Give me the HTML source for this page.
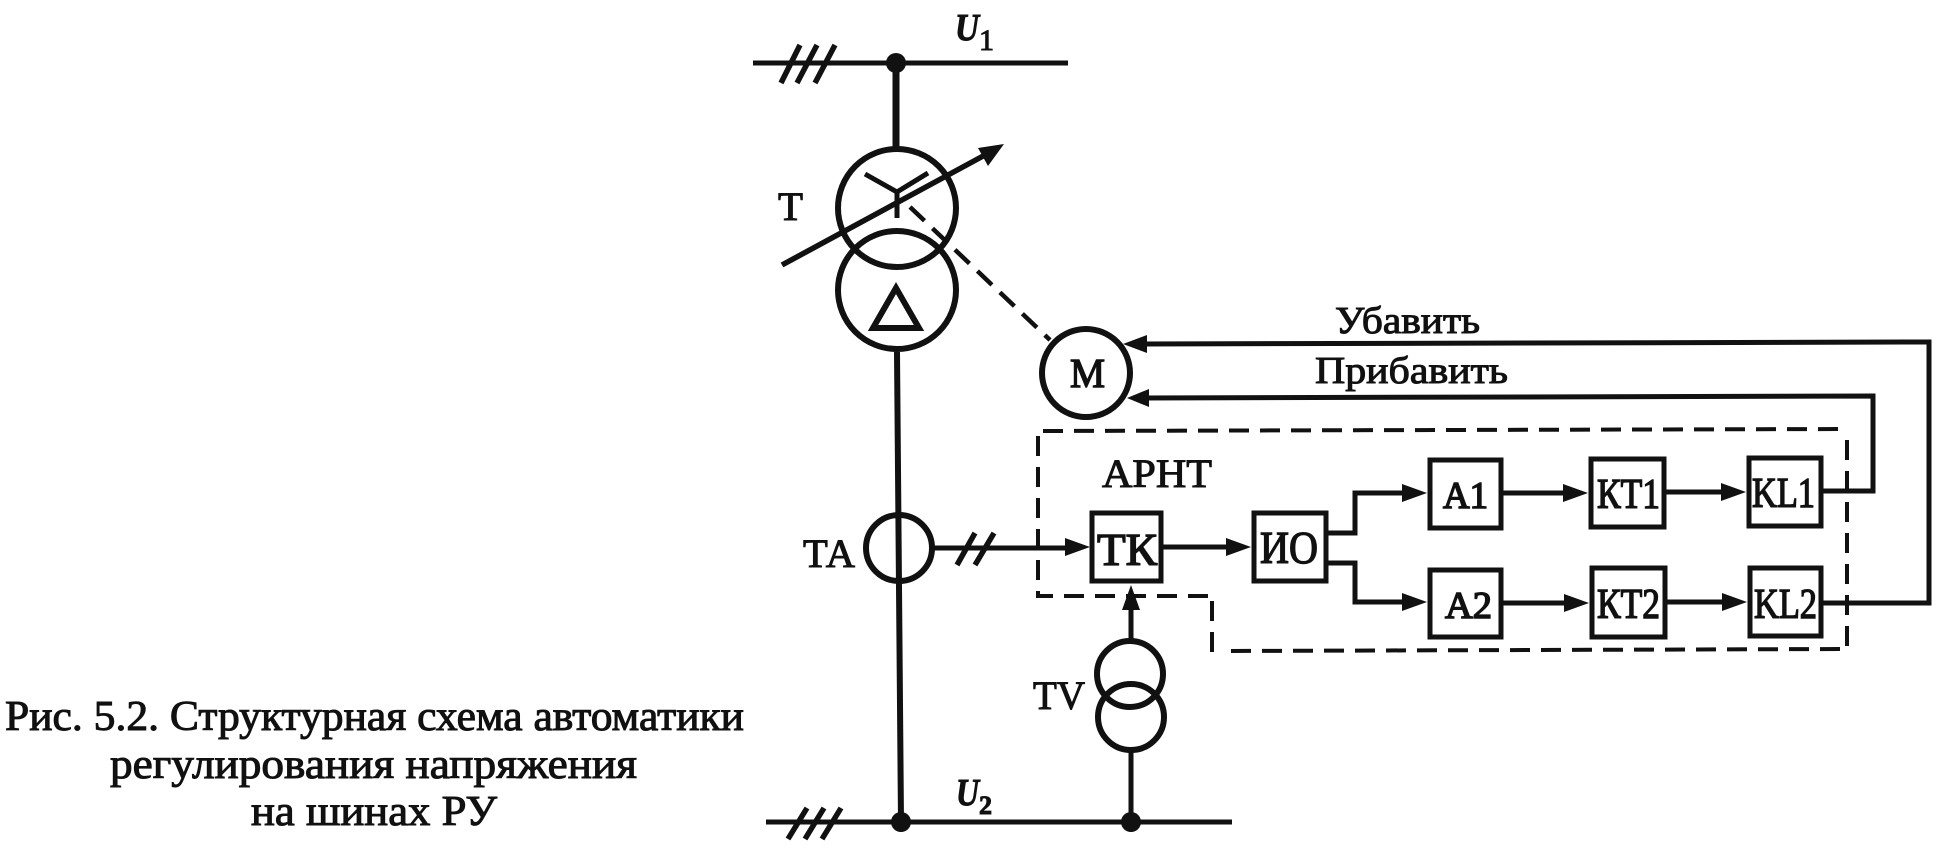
<!DOCTYPE html>
<html><head><meta charset="utf-8"><style>
html,body{margin:0;padding:0;background:#fff;width:1951px;height:855px;overflow:hidden}
svg{display:block}
text{font-family:"Liberation Serif","Noto Serif CJK SC",serif;fill:#111;stroke:#111;stroke-width:1}
</style></head><body>
<svg width="1951" height="855" viewBox="0 0 1951 855" xmlns="http://www.w3.org/2000/svg">
<rect width="1951" height="855" fill="#fff"/>
<g fill="none" stroke="#111" stroke-width="5">
<!-- buses -->
<path d="M753 63H1068"/>
<path d="M766 822H1232"/>
<path d="M781 83L800 45M797 83L817 45M815 83L835 45" stroke-width="5.5"/>
<path d="M788 839L807 808M805 839L824 808M822 839L841 808" stroke-width="5.5"/>
<path d="M896 63V147" stroke-width="7"/>
<path d="M897 352L901 822" stroke-width="6"/>
<!-- transformer -->
<circle cx="897" cy="208" r="59" stroke-width="6"/>
<circle cx="897" cy="290" r="59" stroke-width="6"/>
<path d="M782 265L985 155" stroke-width="5.5"/>
<path d="M865 174L897 192L928 173M897 192V218" stroke-width="5"/>
<path d="M873 328L896 288L919 328Z" stroke-width="6" stroke-linejoin="miter"/>
<path d="M910 207L1050 340" stroke-width="4.5" stroke-dasharray="20 11"/>
<!-- TA -->
<circle cx="899" cy="548" r="33" stroke-width="6"/>
<path d="M934 548H1070"/>
<path d="M957 565L975 533M975 565L994 533" stroke-width="5.5"/>
<!-- M -->
<circle cx="1086" cy="373" r="44" stroke-width="6"/>
<!-- TV -->
<circle cx="1130" cy="674" r="33" stroke-width="6"/>
<circle cx="1131" cy="717" r="33" stroke-width="6"/>
<path d="M1131 606V640"/>
<path d="M1131 750V822"/>
<!-- boxes -->
<rect x="1092" y="513" width="69" height="68"/>
<rect x="1254" y="513" width="72" height="68"/>
<rect x="1430" y="460" width="71" height="68"/>
<rect x="1430" y="570" width="71" height="67"/>
<rect x="1591" y="459" width="73" height="68"/>
<rect x="1592" y="568" width="73" height="69"/>
<rect x="1749" y="458" width="72" height="68"/>
<rect x="1750" y="568" width="71" height="68"/>
<!-- connectors -->
<path d="M1163 547H1232"/>
<path d="M1328 533H1355V493H1408"/>
<path d="M1328 563H1355V602H1408"/>
<path d="M1503 493H1570"/>
<path d="M1666 492H1728"/>
<path d="M1503 603H1570"/>
<path d="M1667 602H1728"/>
<path d="M1823 491H1873V396L1140 398" stroke-linejoin="miter"/>
<path d="M1823 603H1929V342L1140 344" stroke-linejoin="miter"/>
<!-- dashed frame -->
<path d="M1043 431L1847 429" stroke-width="4" stroke-dasharray="20 11"/>
<path d="M1847 440V647" stroke-width="4" stroke-dasharray="20 11"/>
<path d="M1840 649L1225 651" stroke-width="4" stroke-dasharray="20 11"/>
<path d="M1212 652V600" stroke-width="4" stroke-dasharray="20 11"/>
<path d="M1208 596H1038V433" stroke-width="4" stroke-dasharray="20 11"/>
</g>
<g fill="#111" stroke="none">
<circle cx="896" cy="63" r="10"/>
<circle cx="901" cy="822" r="10"/>
<circle cx="1131" cy="822" r="10"/>
<path d="M1004 144L978 148L988 166Z"/>
<path d="M1090 547L1065 538V556Z"/>
<path d="M1251 547L1226 538V556Z"/>
<path d="M1427 493L1402 484V502Z"/>
<path d="M1427 602L1402 593V611Z"/>
<path d="M1588 493L1563 484V502Z"/>
<path d="M1746 492L1721 483V501Z"/>
<path d="M1589 603L1564 594V612Z"/>
<path d="M1747 602L1722 593V611Z"/>
<path d="M1123 344L1147 335V353Z"/>
<path d="M1127 398L1149 389V407Z"/>
<path d="M1131 585L1122 610H1140Z"/>
</g>
<text x="955" y="40" font-size="38" font-weight="bold" font-style="italic" textLength="24" lengthAdjust="spacingAndGlyphs">U</text>
<text x="979" y="50" font-size="30">1</text>
<text x="956" y="805" font-size="38" font-weight="bold" font-style="italic" textLength="23" lengthAdjust="spacingAndGlyphs">U</text>
<text x="979" y="814" font-size="26" font-weight="bold">2</text>
<text x="778" y="220" font-size="40" textLength="25" lengthAdjust="spacingAndGlyphs">Т</text>
<text x="803" y="567" font-size="40" textLength="52" lengthAdjust="spacingAndGlyphs">ТА</text>
<text x="1033" y="709" font-size="40" textLength="52" lengthAdjust="spacingAndGlyphs">TV</text>
<text x="1070" y="387" font-size="41" textLength="35" lengthAdjust="spacingAndGlyphs" style="stroke-width:1.4">М</text>
<text x="1102" y="487" font-size="40" textLength="110" lengthAdjust="spacingAndGlyphs">АРНТ</text>
<text x="1335" y="333" font-size="38" textLength="145" lengthAdjust="spacingAndGlyphs">Убавить</text>
<text x="1315" y="383" font-size="38" textLength="193" lengthAdjust="spacingAndGlyphs">Прибавить</text>
<g style="stroke-width:1.4">
<text x="1097" y="565" font-size="45" textLength="60" lengthAdjust="spacingAndGlyphs" style="stroke-width:1.4">ТК</text>
<text x="1260" y="563" font-size="45" textLength="58" lengthAdjust="spacingAndGlyphs" style="stroke-width:1.4">ИО</text>
<text x="1443" y="508" font-size="38" textLength="45" lengthAdjust="spacingAndGlyphs" style="stroke-width:1.6">А1</text>
<text x="1445" y="618" font-size="38" textLength="47" lengthAdjust="spacingAndGlyphs" style="stroke-width:1.6">А2</text>
<text x="1597" y="508" font-size="42" textLength="63" lengthAdjust="spacingAndGlyphs" style="stroke-width:1.4">КТ1</text>
<text x="1597" y="618" font-size="42" textLength="63" lengthAdjust="spacingAndGlyphs" style="stroke-width:1.4">КТ2</text>
<text x="1752" y="507" font-size="42" textLength="63" lengthAdjust="spacingAndGlyphs" style="stroke-width:1.4">KL1</text>
<text x="1754" y="618" font-size="42" textLength="63" lengthAdjust="spacingAndGlyphs" style="stroke-width:1.4">KL2</text>
</g>
<text x="5" y="730" font-size="42" textLength="739" lengthAdjust="spacingAndGlyphs">Рис. 5.2. Структурная схема автоматики</text>
<text x="110" y="778" font-size="42" textLength="527" lengthAdjust="spacingAndGlyphs">регулирования напряжения</text>
<text x="251" y="825" font-size="42" textLength="246" lengthAdjust="spacingAndGlyphs">на шинах РУ</text>
</svg>
</body></html>
